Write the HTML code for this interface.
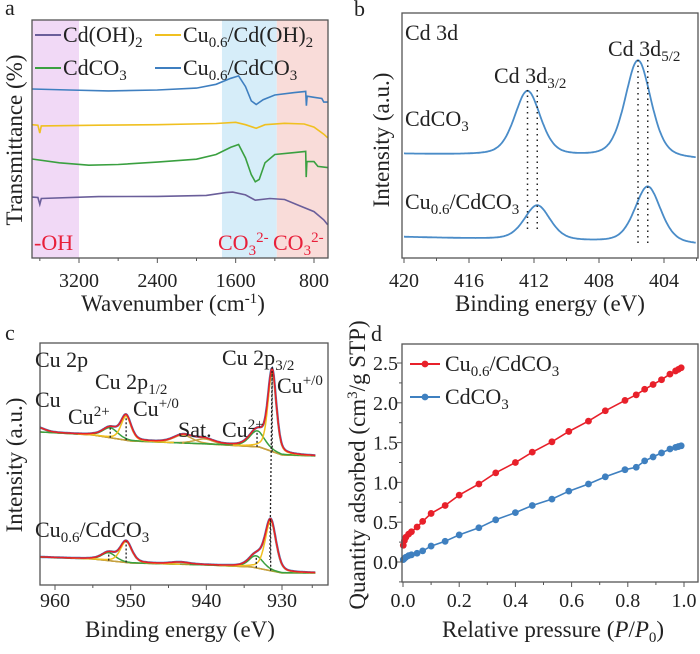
<!DOCTYPE html>
<html><head><meta charset="utf-8"><style>
body{margin:0;background:#fff}
svg, svg text{font-family:"Liberation Serif","DejaVu Serif",serif}
text{fill:#222}
</style></head><body>
<svg id="fig" width="700" height="649" viewBox="0 0 700 649" xmlns="http://www.w3.org/2000/svg" font-family="Liberation Serif, serif">
<g id="pa"></g>
<g id="pb"></g>
<g id="pc"></g>
<g id="pd"></g>
</svg>
<script>
// ---------- Panel a data ----------
const aTicks=[3200,2400,1600,800];
const aBlue=[[3680,71],[3300,70.6],[2900,70.2],[2400,70.6],[2000,71.4],[1800,73],[1650,75.5],[1570,76.5],[1500,72],[1440,66],[1390,64.5],[1320,66.5],[1200,68.5],[1000,69.5],[885,70],[878,64],[870,68],[800,67.5],[720,67],[700,65.5],[660,65.5]];
const aYellow=[[3680,56],[3620,55.8],[3600,52.5],[3585,55.5],[3000,55.8],[2400,56],[1800,56.5],[1600,57],[1500,56],[1390,54.5],[1300,56],[1100,56.6],[900,56.3],[800,55],[700,52],[660,50.5]];
const aGreen=[[3680,41.6],[3400,40],[3100,39],[2800,39.3],[2400,40.3],[2000,41.5],[1800,43.5],[1650,46.5],[1570,47.7],[1500,42],[1440,35],[1400,32],[1360,33],[1300,40],[1200,43.5],[1000,44.3],[885,44.8],[880,34],[872,40.5],[800,40.5],[760,38.5],[660,38]];
const aPurple=[[3680,25.6],[3620,25.4],[3600,22.5],[3585,25],[3000,25.8],[2400,25.9],[1900,26.3],[1700,27.5],[1630,27.7],[1500,26.5],[1400,24.3],[1250,25],[1100,24.6],[950,22],[800,19.5],[700,16],[660,14]];
// ---------- Panel b data ----------
const bTicks=[420,416,412,408,404];
const bTopPeaks=[[412.4,65],[405.6,98]];
const bBotPeaks=[[411.8,35],[405.0,57]];
const bTopBase=[[420,104],[402,98]];
const bBotBase=[[420,21],[402,13]];
// ---------- Panel c data ----------
const cTicks=[960,950,940,930];
const cTopBase=[[962,153],[955,150],[950,144],[940,141],[933,138],[930,130],[925.5,129]];
const cBotBase=[[962,28],[955,26],[950,22],[940,20],[934,18],[930,12],[925.5,12]];
const cTopGreen=[[952.7,10,2.4],[933.3,16,2.4]];
const cTopYellow=[[950.6,24,1.6],[931.3,80,1.3]];
const cTopSat=[[962.5,5,2.5],[943.1,8,3],[940.3,5,3]];
const cBotGreen=[[952.9,8,2.2],[933.4,12,2.2]];
const cBotYellow=[[950.6,21,1.8],[931.5,50,1.7]];
const cBotSat=[[943.5,2,3]];
// ---------- Panel d data ----------
const dXTicks=[0,0.2,0.4,0.6,0.8,1.0];
const dYTicks=[0,0.5,1.0,1.5,2.0,2.5];
const dP=[0.001,0.005,0.01,0.02,0.03,0.05,0.07,0.1,0.15,0.2,0.27,0.33,0.4,0.46,0.53,0.59,0.66,0.72,0.79,0.83,0.86,0.89,0.92,0.95,0.97,0.98,0.99];
const dRed=[0.21,0.27,0.31,0.35,0.38,0.44,0.51,0.61,0.71,0.84,0.98,1.12,1.25,1.38,1.51,1.64,1.77,1.90,2.03,2.10,2.17,2.23,2.29,2.36,2.40,2.42,2.44];
const dBlue=[0.03,0.045,0.06,0.08,0.09,0.11,0.14,0.20,0.26,0.34,0.43,0.53,0.62,0.71,0.79,0.89,0.98,1.07,1.16,1.19,1.27,1.32,1.37,1.42,1.44,1.45,1.46];

const NS="http://www.w3.org/2000/svg";
const TICK=20, TITLE=23, ANN=22, SUB=15;
function sub(s){return '<tspan font-size="'+SUB+'" dy="5">'+s+'</tspan>';}
function sup(s){return '<tspan font-size="'+SUB+'" dy="-8">'+s+'</tspan>';}
function mk(p,tag,at,txt){const e=document.createElementNS(NS,tag);for(const k in at)e.setAttribute(k,at[k]);if(txt!==undefined)e.innerHTML=txt;p.appendChild(e);return e;}
function lin(d0,d1,r0,r1){return v=>r0+(v-d0)*(r1-r0)/(d1-d0);}
function interp(arr,x){for(let i=0;i<arr.length-1;i++){const a=arr[i],b=arr[i+1];if((x-a[0])*(x-b[0])<=0){return a[1]+(x-a[0])*(b[1]-a[1])/(b[0]-a[0]);}}return arr[arr.length-1][1];}
function pv(e,c,A,w){const t=(e-c)/w;return A*(0.6*Math.exp(-4*Math.LN2*t*t)+0.4/(1+4*t*t));}
function poly(pts){return pts.map((p,i)=>(i?'L':'M')+p[0].toFixed(1)+','+p[1].toFixed(1)).join('');}
function box(g,x0,y0,x1,y1){const r=mk(g,'rect',{x:x0,y:y0,width:x1-x0,height:y1-y0,fill:'none',stroke:'#555','stroke-width':1.3});}
function label(g,x,y,html,name,extra){const t=mk(g,'text',Object.assign({x:x,y:y,'font-size':ANN,'font-family':'Liberation Serif, DejaVu Serif, serif'},extra||{}),html);return t;}

// ========== Panel a ==========
(function(){
const g=document.getElementById('pa');
const X0=32,X1=328,Y0=20,Y1=258;
const x=lin(3200,800,79,314), y=lin(0,100,258,20);
const sh=[[3680,3200,'#f1d9f6'],[1740,1180,'#d6edf9'],[1180,650,'#f9dcd9']];
sh.forEach((s,i)=>{const r=mk(g,'rect',{x:Math.max(X0,x(s[0])),y:Y0,width:Math.min(X1,x(s[1]))-Math.max(X0,x(s[0])),height:Y1-Y0,fill:s[2]});});
const ser=[[aBlue,'#3f7fc0','series-cu-cdco3'],[aYellow,'#f0c020','series-cu-cdoh2'],[aGreen,'#3aa040','series-cdco3'],[aPurple,'#6a5e9a','series-cdoh2']];
ser.forEach(s=>{const p=mk(g,'path',{d:poly(s[0].map(d=>[x(d[0]),y(d[1])])),fill:'none',stroke:s[1],'stroke-width':1.6});});
box(g,X0,Y0,X1,Y1);
aTicks.forEach(t=>{mk(g,'line',{x1:x(t),x2:x(t),y1:Y1,y2:Y1+5,stroke:'#555'});label(g,x(t),287,t,'x-tick-label',{'text-anchor':'middle','font-size':TICK});});
[2800,2000,1200,3600].forEach(t=>mk(g,'line',{x1:x(t),x2:x(t),y1:Y1,y2:Y1+3,stroke:'#555'}));
label(g,173,311,'Wavenumber (cm'+sup('-1')+'<tspan dy="8">)</tspan>','x-axis-title',{'text-anchor':'middle','font-size':TITLE});
label(g,0,0,'Transmittance (%)','y-axis-title',{'text-anchor':'middle','font-size':TITLE,transform:'translate(22,140) rotate(-90)'});
label(g,5,15,'a','panel-label',{'font-size':22});
const leg=[[33,35,'#6a5e9a','Cd(OH)'+sub('2')],[153,35,'#f0c020','Cu'+sub('0.6')+'<tspan dy="-5">/Cd(OH)</tspan>'+sub('2')],[33,68,'#3aa040','CdCO'+sub('3')],[153,68,'#3f7fc0','Cu'+sub('0.6')+'<tspan dy="-5">/CdCO</tspan>'+sub('3')]];
leg.forEach(l=>{const ln=mk(g,'line',{x1:l[0]+2,x2:l[0]+28,y1:l[1],y2:l[1],stroke:l[2],'stroke-width':2});label(g,l[0]+30,l[1]+7,l[3],'legend-entry',{'font-size':22});});
label(g,34,250,'-OH','oh-band-label').style.fill='#e8203a';
label(g,218,250,'CO'+'<tspan font-size="'+SUB+'" dy="5">3</tspan><tspan font-size="'+SUB+'" dy="-13">2-</tspan>','co3-band-label-1').style.fill='#e8203a';
label(g,273,250,'CO'+'<tspan font-size="'+SUB+'" dy="5">3</tspan><tspan font-size="'+SUB+'" dy="-13">2-</tspan>','co3-band-label-2').style.fill='#e8203a';
})();

// ========== Panel b ==========
(function(){
const g=document.getElementById('pb');
const X0=402,X1=698,Y0=13,Y1=258;
const x=lin(420,404,404,664);
const curves=[[bTopBase,bTopPeaks,'top'],[bBotBase,bBotPeaks,'bottom']];
curves.forEach(c=>{const pts=[];for(let e=420;e>=402;e-=0.05){let v=interp(c[0],e);c[1].forEach(p=>v+=pv(e,p[0],p[1],1.9));pts.push([x(e),258-v]);}
const p=mk(g,'path',{d:poly(pts),fill:'none',stroke:'#4a8cc8','stroke-width':1.8});});
const dots=[[412.4,90,232],[411.8,90,232],[405.6,60,243],[405.0,60,243]];
dots.forEach(d=>{const l=mk(g,'line',{x1:x(d[0]),x2:x(d[0]),y1:d[1],y2:d[2],stroke:'#222','stroke-width':1.5,'stroke-dasharray':'1.5,4'});});
box(g,X0,Y0,X1,Y1);
bTicks.forEach(t=>{mk(g,'line',{x1:x(t),x2:x(t),y1:Y1,y2:Y1+5,stroke:'#555'});label(g,x(t),287,t,'x-tick-label',{'text-anchor':'middle','font-size':TICK});});
[418,414,410,406,402].forEach(t=>mk(g,'line',{x1:x(t),x2:x(t),y1:Y1,y2:Y1+3,stroke:'#555'}));
label(g,550,311,'Binding energy (eV)','x-axis-title',{'text-anchor':'middle','font-size':TITLE});
label(g,0,0,'Intensity (a.u.)','y-axis-title',{'text-anchor':'middle','font-size':TITLE,transform:'translate(389,140) rotate(-90)'});
label(g,354,16,'b','panel-label',{'font-size':22});
label(g,405,40,'Cd 3d','annotation-cd3d');
label(g,494,83,'Cd 3d'+sub('3/2'),'annotation-cd3d32');
label(g,608,56,'Cd 3d'+sub('5/2'),'annotation-cd3d52');
label(g,405,126,'CdCO'+sub('3'),'sample-label-cdco3');
label(g,405,209,'Cu'+sub('0.6')+'<tspan dy="-5">/CdCO</tspan>'+sub('3'),'sample-label-cu-cdco3');
})();

// ========== Panel c ==========
(function(){
const g=document.getElementById('pc');
const X0=40,X1=328,Y0=343,Y1=585;
const x=lin(960,930,55,282);
const y=v=>585-v;
function draw(base,greens,yellows,sats,tag){
 const E=[];for(let e=962;e>=925.5;e-=0.1)E.push(e);
 const bl=E.map(e=>[x(e),y(interp(base,e))]);
 const tot=E.map(e=>{let v=interp(base,e);greens.concat(yellows,sats).forEach(p=>v+=pv(e,p[0],p[1],p[2]));return [x(e),y(v)];});
 const d=mk(g,'path',{d:poly(tot),fill:'none',stroke:'#3f7fc0','stroke-width':2.4});
 const b=mk(g,'path',{d:poly(bl),fill:'none',stroke:'#a0a030','stroke-width':1.5});
 [[sats,'#c8a040','satellite'],[greens,'#3aa040','cu2-component'],[yellows,'#f0c020','cu-component']].forEach(s=>s[0].forEach(p=>{const pts=E.filter(e=>Math.abs(e-p[0])<4*p[2]).map(e=>[x(e),y(interp(base,e)+pv(e,p[0],p[1],p[2]))]);const c=mk(g,'path',{d:poly(pts),fill:'none',stroke:s[1],'stroke-width':1.5});}));
 const f=mk(g,'path',{d:poly(tot),fill:'none',stroke:'#e8202a','stroke-width':1.6});
 greens.concat(yellows).forEach(p=>{const b0=interp(base,p[0]);const l=mk(g,'line',{x1:x(p[0]),x2:x(p[0]),y1:y(b0),y2:y(b0+p[1]),stroke:'#222','stroke-width':1.3,'stroke-dasharray':'2,2'});});
}
draw(cTopBase,cTopGreen,cTopYellow,cTopSat,'top');
draw(cBotBase,cBotGreen,cBotYellow,cBotSat,'bottom');
const sl=mk(g,'line',{x1:x(931.3),y1:367,x2:x(931.6),y2:560,stroke:'#222','stroke-width':1.3,'stroke-dasharray':'2,2'});
box(g,X0,Y0,X1,Y1);
cTicks.forEach(t=>{mk(g,'line',{x1:x(t),x2:x(t),y1:Y1,y2:Y1+5,stroke:'#555'});label(g,x(t),607,t,'x-tick-label',{'text-anchor':'middle','font-size':TICK});});
[955,945,935,926].forEach(t=>mk(g,'line',{x1:x(t),x2:x(t),y1:Y1,y2:Y1+3,stroke:'#555'}));
label(g,180,637,'Binding energy (eV)','x-axis-title',{'text-anchor':'middle','font-size':TITLE});
label(g,0,0,'Intensity (a.u.)','y-axis-title',{'text-anchor':'middle','font-size':TITLE,transform:'translate(22,465) rotate(-90)'});
label(g,5,340,'c','panel-label',{'font-size':22});
label(g,35,367,'Cu 2p','annotation-cu2p');
label(g,35,407,'Cu','annotation-cu');
label(g,95,389,'Cu 2p'+sub('1/2'),'annotation-cu2p12');
label(g,68,424,'Cu'+sup('2+'),'annotation-cu2plus-1');
label(g,133,416,'Cu'+sup('+/0'),'annotation-cuplus-1');
label(g,178,437,'Sat.','annotation-sat');
label(g,222,437,'Cu'+sup('2+'),'annotation-cu2plus-2');
label(g,222,365,'Cu 2p'+sub('3/2'),'annotation-cu2p32');
label(g,277,393,'Cu'+sup('+/0'),'annotation-cuplus-2');
label(g,35,537,'Cu'+sub('0.6')+'<tspan dy="-5">/CdCO</tspan>'+sub('3'),'sample-label-cu-cdco3');
})();

// ========== Panel d ==========
(function(){
const g=document.getElementById('pd');
const X0=402,X1=698,Y0=344,Y1=582;
const x=lin(0,1,403,684), y=lin(0,2.5,562,363);
[[dRed,'#e8202a','series-cu-cdco3'],[dBlue,'#3f80c0','series-cdco3']].forEach(s=>{
 const pts=dP.map((p,i)=>[x(p),y(s[0][i])]);
 const l=mk(g,'path',{d:poly(pts),fill:'none',stroke:s[1],'stroke-width':1.6});
 pts.forEach(p=>{const c=mk(g,'circle',{cx:p[0],cy:p[1],r:3.4,fill:s[1]});});
});
box(g,X0,Y0,X1,Y1);
dXTicks.forEach(t=>{mk(g,'line',{x1:x(t),x2:x(t),y1:Y1,y2:Y1+5,stroke:'#555'});label(g,x(t),607,t.toFixed(1),'x-tick-label',{'text-anchor':'middle','font-size':TICK});});
dYTicks.forEach(t=>{mk(g,'line',{x1:X0,x2:X0-5,y1:y(t),y2:y(t),stroke:'#555'});label(g,X0-4,y(t)+7,t.toFixed(1),'y-tick-label',{'text-anchor':'end','font-size':TICK});});
[0.1,0.3,0.5,0.7,0.9].forEach(t=>mk(g,'line',{x1:x(t),x2:x(t),y1:Y1,y2:Y1+3,stroke:'#555'}));
[-0.25,0.25,0.75,1.25,1.75,2.25].forEach(t=>mk(g,'line',{x1:X0,x2:X0-3,y1:y(t),y2:y(t),stroke:'#555'}));
label(g,553,637,'Relative pressure (<tspan font-style="italic">P</tspan>/<tspan font-style="italic">P</tspan>'+sub('0')+'<tspan dy="-5">)</tspan>','x-axis-title',{'text-anchor':'middle','font-size':TITLE});
label(g,0,0,'Quantity adsorbed (cm'+sup('3')+'<tspan dy="8">/g STP)</tspan>','y-axis-title',{'text-anchor':'middle','font-size':TITLE,transform:'translate(365,465) rotate(-90)'});
label(g,371,341,'d','panel-label',{'font-size':22});
[[364,'#e8202a','Cu'+sub('0.6')+'<tspan dy="-5">/CdCO</tspan>'+sub('3')],[397,'#3f80c0','CdCO'+sub('3')]].forEach(l=>{
 const ln=mk(g,'line',{x1:410,x2:440,y1:l[0],y2:l[0],stroke:l[1],'stroke-width':2});
 mk(g,'circle',{cx:425,cy:l[0],r:3.4,fill:l[1]});
 label(g,445,l[0]+7,l[2],'legend-entry',{'font-size':22});
});
})();
</script>
</body></html>
